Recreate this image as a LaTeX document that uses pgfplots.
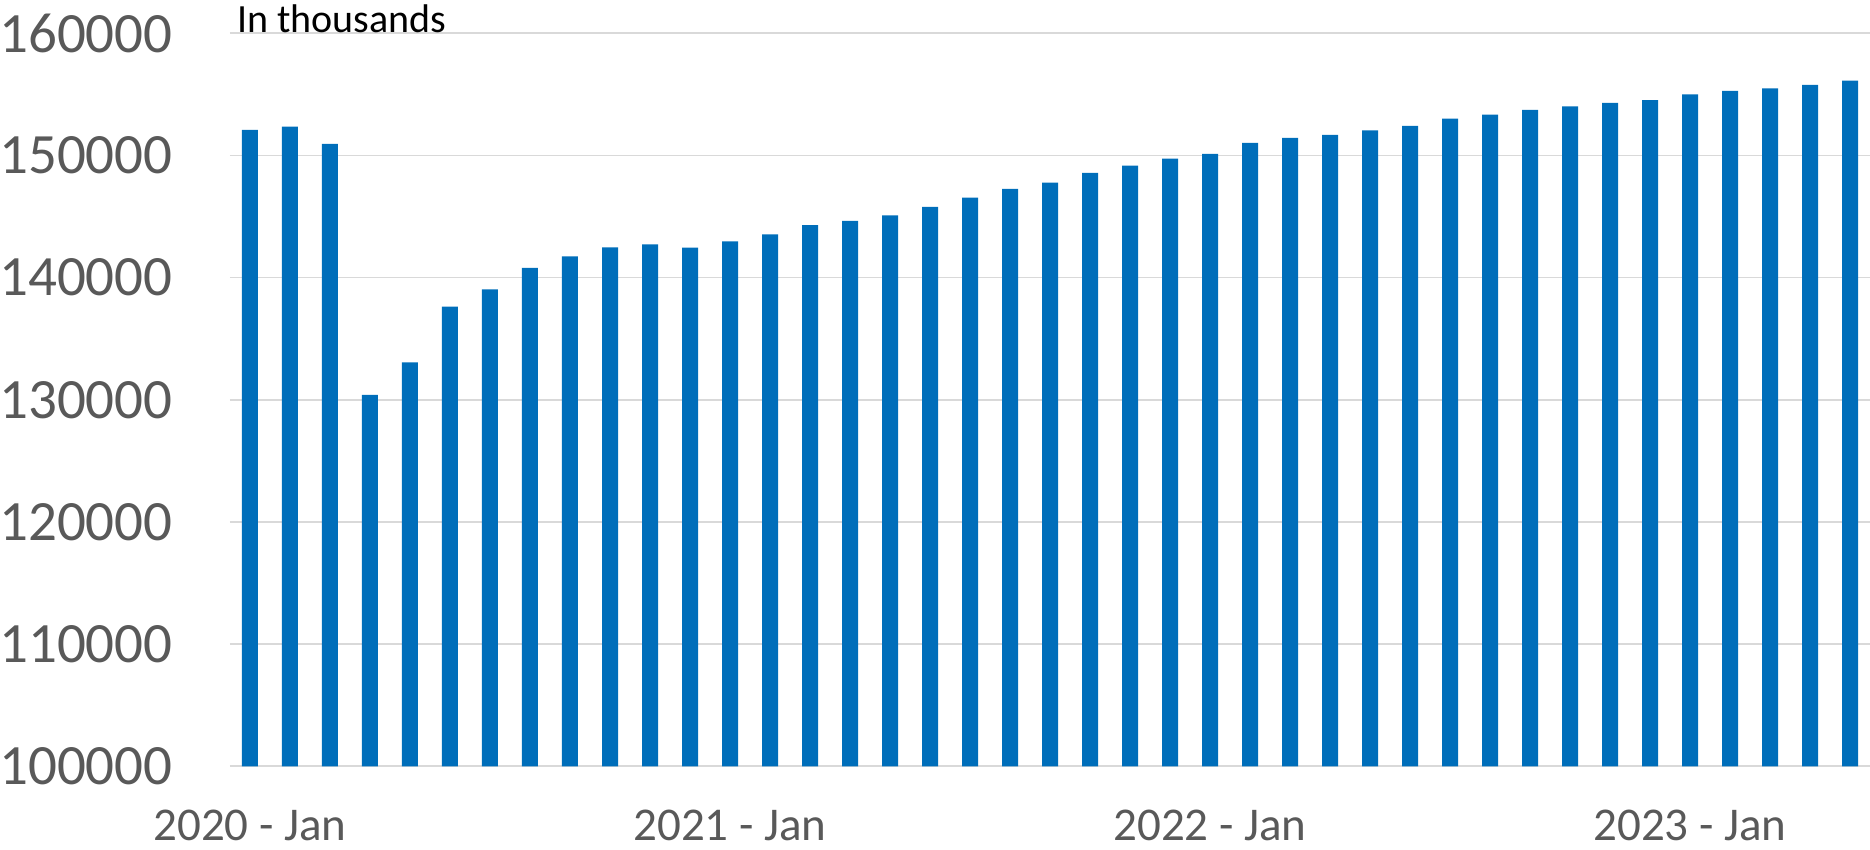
\documentclass[border=0pt]{standalone}
\usepackage{pgfplots}
\pgfplotsset{compat=1.18}
\usepackage{fontspec}
\setmainfont{Carlito}
\definecolor{barblue}{RGB}{0,110,186}
\definecolor{gridgray}{RGB}{217,217,217}
\definecolor{labgray}{RGB}{89,89,89}
\begin{document}
\begin{tikzpicture}
\path[use as bounding box] (-115pt,-41.85pt) rectangle (820pt,383.15pt);
\begin{axis}[
  anchor=south west, at={(0pt,0pt)},
  scale only axis, width=820pt, height=366.5pt,
  xmin=-0.5, xmax=40.5, ymin=100000, ymax=160000,
  ytick={100000,110000,120000,130000,140000,150000,160000},
  xtick={0,12,24,36},
  xticklabels={2020 - Jan, 2021 - Jan, 2022 - Jan, 2023 - Jan},
  ymajorgrids, grid style={gridgray, line width=0.85pt},
  axis line style={draw=none},
  major tick length=0pt,
  scaled y ticks=false,
  /pgf/number format/assume math mode=true,
  y tick label style={/pgf/number format/fixed, /pgf/number format/1000 sep={}},
  yticklabel style={font=\fontsize{28.5}{30}\selectfont, text=labgray, anchor=east, inner sep=0pt, xshift=-28.5pt},
  xticklabel style={font=\fontsize{23.5}{25}\selectfont, text=labgray, anchor=base, inner sep=0pt, yshift=-37pt},
]
\addplot[ybar, bar width=8pt, fill=barblue, draw=none] coordinates {
(0,152085) (1,152355) (2,150940) (3,130394) (4,133070) (5,137630) (6,139045) (7,140790)
(8,141747) (9,142483) (10,142728) (11,142457) (12,142973) (13,143546) (14,144308) (15,144636)
(16,145102) (17,145782) (18,146545) (19,147255) (20,147771) (21,148565) (22,149163) (23,149736)
(24,150120) (25,151021) (26,151430) (27,151676) (28,152060) (29,152412) (30,153010) (31,153337)
(32,153722) (33,154025) (34,154295) (35,154540) (36,155007) (37,155277) (38,155498) (39,155768)
(40,156120)
};
\end{axis}
\node[anchor=base west, inner sep=0pt, font=\fontsize{20}{22}\selectfont, text=black] at (3.5pt,367pt) {In thousands};
\end{tikzpicture}
\end{document}
